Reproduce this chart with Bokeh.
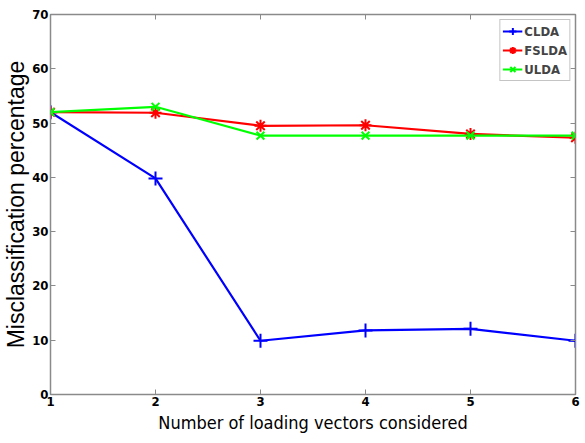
from bokeh.plotting import figure
from bokeh.models import LinearAxis, Range1d, FixedTicker, Legend, LegendItem, CustomJSTickFormatter
from bokeh.embed import file_html
from bokeh.resources import INLINE

x_vals = [1, 2, 3, 4, 5, 6]
clda = [52.0, 39.8, 9.9, 11.8, 12.1, 9.9]
fslda = [52.0, 51.9, 49.5, 49.6, 48.0, 47.3]
ulda = [52.0, 53.0, 47.7, 47.7, 47.7, 47.7]
x_ticks = [1, 2, 3, 4, 5, 6]
y_ticks = [0, 10, 20, 30, 40, 50, 60, 70]

p = figure(width=585, height=443, output_backend="svg", toolbar_location=None,
           x_range=Range1d(1, 6), y_range=Range1d(0, 70),
           min_border_left=10, min_border_right=10, min_border_top=14, min_border_bottom=49)
p.xgrid.visible = False
p.ygrid.visible = False
p.outline_line_color = "#8a8a8a"
p.outline_line_width = 1.5
p.background_fill_color = "white"
p.border_fill_color = "white"

tick_font = "DejaVu Sans Condensed"
for ax in [p.xaxis[0], p.yaxis[0]]:
    ax.major_tick_in = 5
    ax.major_tick_out = 0
    ax.minor_tick_line_color = None
    ax.axis_line_color = "#8a8a8a"
    ax.major_tick_line_color = "#8a8a8a"
    ax.major_label_text_font = tick_font
    ax.major_label_text_font_style = "bold"
    ax.major_label_text_font_size = "13px"
    ax.major_label_text_color = "black"
    ax.axis_label_text_font = "DejaVu Sans Condensed"
    ax.axis_label_text_font_style = "normal"
    ax.axis_label_text_font_size = "18px"
    ax.axis_label_text_color = "black"

p.xaxis[0].ticker = FixedTicker(ticks=x_ticks)
p.yaxis[0].ticker = FixedTicker(ticks=y_ticks)
p.xaxis[0].major_label_standoff = 2
p.yaxis[0].major_label_standoff = 2
p.xaxis[0].axis_label = "Number of loading vectors considered"
p.yaxis[0].axis_label = "Misclassification percentage"
p.xaxis[0].axis_label_standoff = 3
p.yaxis[0].axis_label_standoff = 0
p.yaxis[0].axis_label_text_font = "Liberation Sans"
p.yaxis[0].axis_label_text_font_size = "23px"

blank = CustomJSTickFormatter(code="return '';")
top = LinearAxis(ticker=FixedTicker(ticks=x_ticks), formatter=blank,
                 major_tick_in=5, major_tick_out=0, minor_tick_line_color=None,
                 axis_line_color="#8a8a8a", major_tick_line_color="#8a8a8a", major_label_standoff=0)
right = LinearAxis(ticker=FixedTicker(ticks=y_ticks), formatter=blank,
                   major_tick_in=5, major_tick_out=0, minor_tick_line_color=None,
                   axis_line_color="#8a8a8a", major_tick_line_color="#8a8a8a", major_label_standoff=0)
p.add_layout(top, "above")
p.add_layout(right, "right")

l1 = p.line(x_vals, clda, line_color="#0000ff", line_width=2.2)
m1 = p.scatter(x_vals, clda, marker="cross", size=14, line_color="#0000ff", line_width=2)
l2 = p.line(x_vals, fslda, line_color="#ff0000", line_width=2.2)
m2 = p.scatter(x_vals, fslda, marker="asterisk", size=12, line_color="#ff0000", line_width=2)
l3 = p.line(x_vals, ulda, line_color="#00ff00", line_width=2.2)
m3 = p.scatter(x_vals, ulda, marker="x", size=11, line_color="#00ff00", line_width=2)

legend = Legend(items=[
    LegendItem(label="CLDA", renderers=[l1, m1]),
    LegendItem(label="FSLDA", renderers=[l2, m2]),
    LegendItem(label="ULDA", renderers=[l3, m3]),
], location="top_right")
legend.label_text_font = "DejaVu Sans Condensed"
legend.label_text_font_style = "bold"
legend.label_text_font_size = "13px"
legend.border_line_color = "#8a8a8a"
legend.border_line_width = 1
legend.glyph_width = 20
legend.glyph_height = 18
legend.label_standoff = 2
legend.spacing = 1
legend.padding = 2
legend.margin = 5
legend.label_height = 18
p.add_layout(legend, "center")

open("out.html", "w").write(file_html(p, INLINE))
